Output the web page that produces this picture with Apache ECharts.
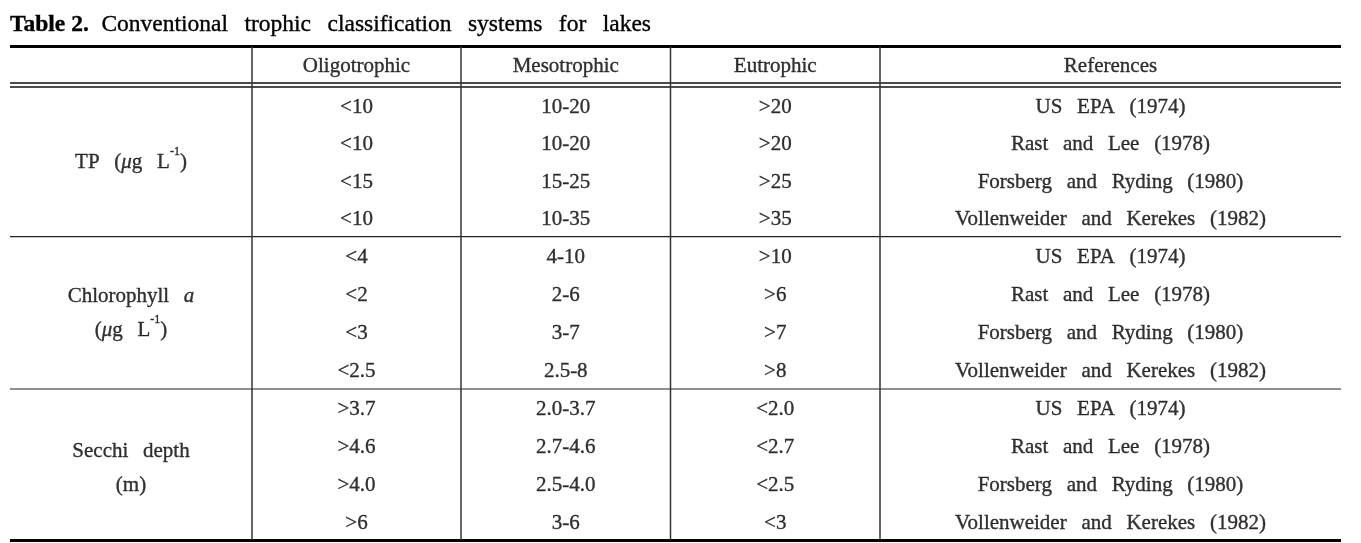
<!DOCTYPE html>
<html><head><meta charset="utf-8">
<script src="https://cdn.jsdelivr.net/npm/echarts@6/dist/echarts.min.js"></script>
<style>html,body{margin:0;padding:0;background:#fff}#c{width:1361px;height:543px}</style>
</head><body><div id="c"></div>
<script>
// ---- data ----
const titleLabel = 'Table 2.';
const titleText = 'Conventional trophic classification systems for lakes';
const columnHeaders = ['Oligotrophic', 'Mesotrophic', 'Eutrophic', 'References'];
const parameterNames = ['TP', 'Chlorophyll a', 'Secchi depth'];
const parameterUnits = ['μg L-1', 'μg L-1', 'm'];
const references = ['US EPA (1974)', 'Rast and Lee (1978)', 'Forsberg and Ryding (1980)', 'Vollenweider and Kerekes (1982)'];
const tpOligotrophic = ['<10', '<10', '<15', '<10'];
const tpMesotrophic = ['10-20', '10-20', '15-25', '10-35'];
const tpEutrophic = ['>20', '>20', '>25', '>35'];
const chlOligotrophic = ['<4', '<2', '<3', '<2.5'];
const chlMesotrophic = ['4-10', '2-6', '3-7', '2.5-8'];
const chlEutrophic = ['>10', '>6', '>7', '>8'];
const secchiOligotrophic = ['>3.7', '>4.6', '>4.0', '>6'];
const secchiMesotrophic = ['2.0-3.7', '2.7-4.6', '2.5-4.0', '3-6'];
const secchiEutrophic = ['<2.0', '<2.7', '<2.5', '<3'];

// ---- layout (axis units) ----
const colEdges = [0, 242, 451, 660.5, 870, 1331];
const topRuleY = 0.6, headerBottomY = 37, dataTopY = 41;
const groupHeights = [149.6, 152.4, 152.4];
const W = 1331, H = 495;

const groups = [
  [tpOligotrophic, tpMesotrophic, tpEutrophic],
  [chlOligotrophic, chlMesotrophic, chlEutrophic],
  [secchiOligotrophic, secchiMesotrophic, secchiEutrophic]
];

const SP = '\u2002\u2009';
const wide = s => s.replace(/ /g, SP);
function fmtName(n) { return wide(n).replace(new RegExp(SP + 'a$'), SP + '{it|a}'); }
function fmtUnit(u) {
  if (u === 'μg L-1') return '({it|μ}g' + SP + 'L{sup|-1})';
  return '(' + u + ')';
}
function paramLabel(i) {
  if (i === 0) return fmtName(parameterNames[i]) + SP + fmtUnit(parameterUnits[i]);
  return fmtName(parameterNames[i]) + '\n' + fmtUnit(parameterUnits[i]);
}

const colCenter = c => (colEdges[c] + colEdges[c + 1]) / 2;
const cells = [];
columnHeaders.forEach((h, c) => cells.push({ value: [colCenter(c + 1), (topRuleY + headerBottomY) / 2 + 2], name: h }));
const hLines = [];
const vLines = [];
hLines.push({ value: [0, W, topRuleY, 3, '#000'] });
hLines.push({ value: [0, W, headerBottomY, 1.4, '#111'] });
hLines.push({ value: [0, W, dataTopY, 1.4, '#111'] });
const labelShift = [1, 1, 3.5];
let y0 = dataTopY;
groups.forEach((g, gi) => {
  const rh = groupHeights[gi] / 4;
  cells.push({ value: [colCenter(0), y0 + groupHeights[gi] / 2 + labelShift[gi]], name: paramLabel(gi) });
  for (let r = 0; r < 4; r++) {
    const yc = y0 + rh * (r + 0.5) + 1.5;
    g.forEach((col, ci) => cells.push({ value: [colCenter(ci + 1), yc], name: col[r] }));
    cells.push({ value: [colCenter(4), yc], name: wide(references[r]) });
  }
  y0 += groupHeights[gi];
  if (gi < groups.length - 1) hLines.push({ value: [0, W, y0, 1.2, '#222'] });
  else hLines.push({ value: [0, W, y0 - 1, 3, '#000'] });
});
for (let c = 1; c < colEdges.length - 1; c++) vLines.push({ value: [colEdges[c], topRuleY, H - 1, 1.5, '#333'] });

const FONT = '"Liberation Serif", "Times New Roman", serif';
const ink = { color: '#000', textBorderColor: '#000', textBorderWidth: 0.35 };
const chart = echarts.init(document.getElementById('c'), null, { renderer: 'canvas' });
chart.setOption({
  animation: false,
  backgroundColor: '#fff',
  title: {
    left: 10, top: 13, padding: 0,
    text: '{b|' + titleLabel + '}' + SP + '{n|' + wide(titleText) + '}',
    textStyle: {
      fontWeight: 'normal',
      rich: {
        b: Object.assign({ fontFamily: FONT, fontSize: 23.5, fontWeight: 'bold' }, ink),
        n: Object.assign({ fontFamily: FONT, fontSize: 23.5, fontWeight: 'normal' }, ink)
      }
    }
  },
  grid: { left: 10, right: 20, top: 46, bottom: 2 },
  xAxis: { type: 'value', min: 0, max: W, show: false },
  yAxis: { type: 'value', min: 0, max: H, inverse: true, show: false },
  series: [
    {
      type: 'custom', silent: true,
      renderItem: (p, api) => {
        const a = api.coord([api.value(0), api.value(2)]);
        const b = api.coord([api.value(1), api.value(2)]);
        return { type: 'line', shape: { x1: a[0], y1: a[1], x2: b[0], y2: b[1] }, style: { stroke: api.value(4), lineWidth: api.value(3) } };
      },
      dimensions: ['x1', 'x2', 'y', 'w', { name: 'c', type: 'ordinal' }],
      data: hLines
    },
    {
      type: 'custom', silent: true,
      renderItem: (p, api) => {
        const a = api.coord([api.value(0), api.value(1)]);
        const b = api.coord([api.value(0), api.value(2)]);
        return { type: 'line', shape: { x1: a[0], y1: a[1], x2: b[0], y2: b[1] }, style: { stroke: api.value(4), lineWidth: api.value(3) } };
      },
      dimensions: ['x', 'y1', 'y2', 'w', { name: 'c', type: 'ordinal' }],
      data: vLines
    },
    {
      type: 'scatter', silent: true,
      symbolSize: 1,
      itemStyle: { color: 'rgba(0,0,0,0)' },
      label: Object.assign({
        show: true, position: 'inside',
        formatter: p => p.name,
        fontFamily: FONT, fontSize: 21, lineHeight: 34,
        rich: {
          it: Object.assign({ fontFamily: FONT, fontSize: 21, fontStyle: 'italic', lineHeight: 34 }, ink),
          sup: Object.assign({ fontFamily: FONT, fontSize: 12, verticalAlign: 'top', lineHeight: 24 }, ink)
        }
      }, ink),
      data: cells
    }
  ]
});
</script></body></html>
